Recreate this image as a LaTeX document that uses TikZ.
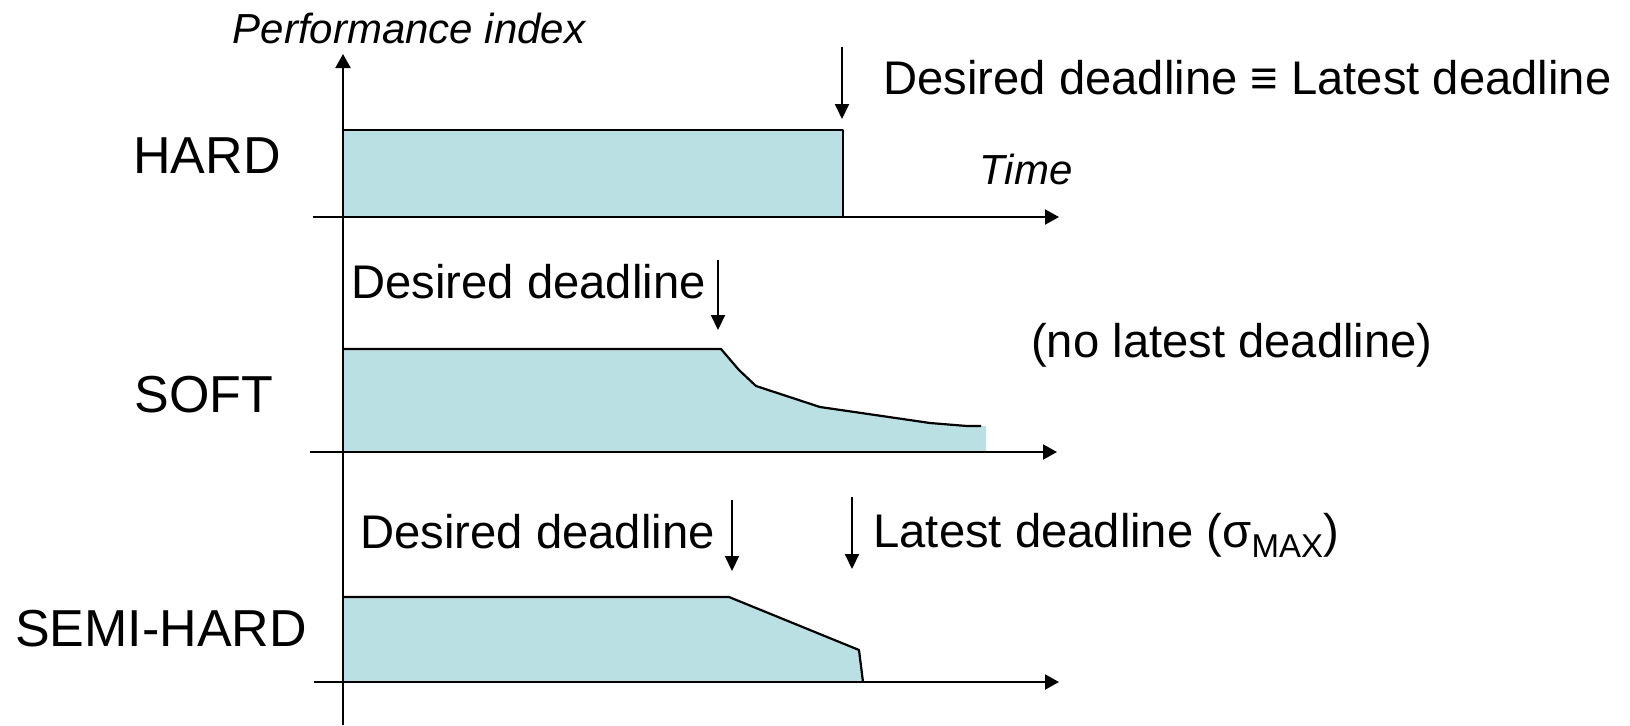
\documentclass[tikz,border=0pt]{standalone}
\usepackage{fontspec}
\setmainfont{Liberation Sans}
\usetikzlibrary{arrows.meta}
\definecolor{areafill}{RGB}{187,224,227}
\begin{document}
\begin{tikzpicture}[x=0.5pt,y=-0.5pt,
  axis/.style={line width=1pt,-{Triangle[length=7pt,width=7.5pt]}},
  deadline/.style={line width=1pt,-{Triangle[length=7.5pt,width=7pt]}},
  curve/.style={line width=1.1pt,line join=round},
  area/.style={fill=areafill},
  lbl/.style={inner sep=0pt,anchor=base west,font=\fontsize{23.6}{28}\selectfont},
  kind/.style={inner sep=0pt,anchor=base,font=\fontsize{26}{30}\selectfont},
  axlbl/.style={inner sep=0pt,anchor=base,font=\fontsize{21}{25}\selectfont\itshape}]
\useasboundingbox (0,0) rectangle (1630,725);

% performance axis shared by the three plots
\coordinate (ybot) at (343,725);
\coordinate (ytop) at (343,54);

% ---------- HARD ----------
\fill[area] (343,217) rectangle (843,130);
\draw[curve] (343,130) -- (843,130) -- (843,217);
\coordinate (h0) at (313,217);
\coordinate (h1) at (1059,217);
\draw[axis] (h0) -- (h1);
\coordinate (ha0) at (842,47);
\coordinate (ha1) at (842,119);
\draw[deadline] (ha0) -- (ha1);

% ---------- SOFT ----------
\fill[area] (343,452) -- (343,349) -- (721,349) -- (739,370) -- (756,386)
  -- (820,407) -- (882,416) -- (930,423) -- (967,426) -- (986,426)
  -- (986,452) -- cycle;
\draw[curve] (343,349) -- (721,349) -- (739,370) -- (756,386) -- (820,407)
  -- (882,416) -- (930,423) -- (967,426) -- (981,426);
\coordinate (s0) at (310,452);
\coordinate (s1) at (1057,452);
\draw[axis] (s0) -- (s1);
\coordinate (sa0) at (718,260);
\coordinate (sa1) at (718,330);
\draw[deadline] (sa0) -- (sa1);

% ---------- SEMI-HARD ----------
\fill[area] (343,682) -- (343,597) -- (729,597) -- (859,650) -- (863,682) -- cycle;
\draw[curve] (343,597) -- (729,597) -- (859,650) -- (863,682);
\coordinate (m0) at (314,682);
\coordinate (m1) at (1059,682);
\draw[axis] (m0) -- (m1);
\coordinate (md0) at (732,500);
\coordinate (md1) at (732,571);
\draw[deadline] (md0) -- (md1);
\coordinate (ml0) at (852,497);
\coordinate (ml1) at (852,569);
\draw[deadline] (ml0) -- (ml1);

\draw[axis] (ybot) -- (ytop);

% ---------- labels ----------
\node[axlbl] (perf) at (409,43) {Performance index};
\node[axlbl] (time) at (1026,184) {Time};
\node[kind] (hard) at (207,173) {HARD};
\node[lbl] (hardlbl) at (883,94) {Desired deadline ≡ Latest deadline};
\node[lbl] (softdes) at (351,298) {Desired deadline};
\node[lbl,anchor=base] (nolatest) at (1232,357) {(no latest deadline)};
\node[kind] (soft) at (204,412) {SOFT};
\node[lbl] (semides) at (360,548) {Desired deadline};
\node[lbl] (semilat) at (873,547) {Latest deadline (σ\raisebox{-5pt}{\fontsize{16.5}{17}\selectfont MAX})};
\node[kind] (semi) at (161,646) {SEMI-HARD};
\end{tikzpicture}
\end{document}
